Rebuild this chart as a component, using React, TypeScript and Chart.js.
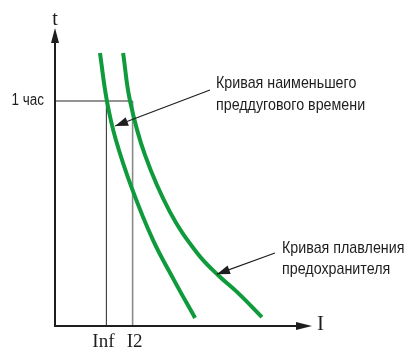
import React, { useEffect, useRef } from "react";
import { Chart, registerables } from "chart.js";

Chart.register(...registerables);

// Curve of minimum pre-arcing time (left curve)
const minArcX = [17.5, 20.2, 23.7, 30.0, 38.1, 46.3, 54.5];
const minArcY = [91.6, 75.5, 62.4, 46.0, 28.9, 15.4, 2.7];
// Fuse melting curve (right curve)
const fuseX = [26.5, 29.2, 35.0, 44.7, 55.3, 63.4, 71.2, 80.5];
const fuseY = [91.6, 75.5, 57.4, 38.3, 24.5, 17.1, 11.1, 3.0];

// Reference values
const hourValue = 75.5;
const xTickValues = [20.0, 30.2];
const xTickLabels = ["Inf", "I2"];
const yTickValues = [hourValue];
const yTickLabels = ["1 час"];
const axisTitleX = "I";
const axisTitleY = "t";

// Annotations: [tailX, tailY, tipX, tipY]
const arrow1 = [60.3, 79.2, 23.4, 67.1];
const arrow2 = [85.6, 24.5, 63.0, 17.4];
const note1 = ["Кривая наименьшего", "преддугового времени"];
const note2 = ["Кривая плавления", "предохранителя"];

const GREEN = "#0f9a3c";
const INK = "#1e1e1e";
const SANS = '"Liberation Sans Narrow", "Liberation Sans", Arial, sans-serif';
const SERIF = '"Liberation Serif", "Times New Roman", serif';
const CONDENSE = 0.84;

function pts(xs: number[], ys: number[]) {
  return xs.map((x, i) => ({ x, y: ys[i] }));
}

function arrowHead(ctx: CanvasRenderingContext2D, x1: number, y1: number, x2: number, y2: number, len: number, half: number) {
  const a = Math.atan2(y2 - y1, x2 - x1);
  ctx.beginPath();
  ctx.moveTo(x2, y2);
  ctx.lineTo(x2 - len * Math.cos(a) + half * Math.sin(a), y2 - len * Math.sin(a) - half * Math.cos(a));
  ctx.lineTo(x2 - len * Math.cos(a) - half * Math.sin(a), y2 - len * Math.sin(a) + half * Math.cos(a));
  ctx.closePath();
  ctx.fill();
}

function narrowText(ctx: CanvasRenderingContext2D, text: string, x: number, y: number, align: "left" | "right") {
  ctx.save();
  ctx.translate(x, y);
  ctx.scale(CONDENSE, 1);
  ctx.textAlign = align;
  ctx.fillText(text, 0, 0);
  ctx.restore();
}

const decorPlugin = {
  id: "decor",
  afterDatasetsDraw(chart: any) {
    const ctx: CanvasRenderingContext2D = chart.ctx;
    const xs = chart.scales.x;
    const ys = chart.scales.y;
    const ca = chart.chartArea;
    const x0 = xs.getPixelForValue(0);
    const y0 = ys.getPixelForValue(0);
    ctx.save();
    ctx.strokeStyle = INK;
    ctx.fillStyle = INK;
    ctx.lineWidth = 2;
    // y axis
    ctx.beginPath();
    ctx.moveTo(x0, y0 + 1);
    ctx.lineTo(x0, ca.top + 12);
    ctx.stroke();
    arrowHead(ctx, x0, y0, x0, ca.top, 15, 4);
    // x axis
    ctx.beginPath();
    ctx.moveTo(x0 - 1, y0);
    ctx.lineTo(ca.right - 12, y0);
    ctx.stroke();
    arrowHead(ctx, x0, y0, ca.right, y0, 16, 4);

    // annotation arrows
    ctx.lineWidth = 1.2;
    [arrow1, arrow2].forEach((a) => {
      const tx = xs.getPixelForValue(a[0]);
      const ty = ys.getPixelForValue(a[1]);
      const hx = xs.getPixelForValue(a[2]);
      const hy = ys.getPixelForValue(a[3]);
      ctx.beginPath();
      ctx.moveTo(tx, ty);
      ctx.lineTo(hx, hy);
      ctx.stroke();
      arrowHead(ctx, tx, ty, hx, hy, 13, 4.5);
    });

    // texts
    ctx.textBaseline = "alphabetic";
    ctx.font = "17px " + SANS;
    const t1x = xs.getPixelForValue(arrow1[0]) + 6;
    const t1y = ys.getPixelForValue(arrow1[1]);
    narrowText(ctx, note1[0], t1x, t1y - 2, "left");
    narrowText(ctx, note1[1], t1x, t1y + 20, "left");
    const t2x = xs.getPixelForValue(arrow2[0]) + 7;
    const t2y = ys.getPixelForValue(arrow2[1]);
    narrowText(ctx, note2[0], t2x, t2y, "left");
    narrowText(ctx, note2[1], t2x, t2y + 21, "left");

    // y tick label
    ctx.font = "16px " + SANS;
    ctx.textBaseline = "middle";
    yTickValues.forEach((v, i) => {
      narrowText(ctx, yTickLabels[i], x0 - 11, ys.getPixelForValue(v), "right");
    });

    // x tick labels
    ctx.font = "19px " + SERIF;
    ctx.textAlign = "center";
    ctx.textBaseline = "alphabetic";
    xTickValues.forEach((v, i) => {
      ctx.fillText(xTickLabels[i], xs.getPixelForValue(v) - (i === 0 ? 3 : -2), y0 + 21);
    });

    // axis titles
    ctx.font = "20px " + SERIF;
    ctx.textAlign = "center";
    ctx.fillText(axisTitleY, x0, ca.top - 3);
    ctx.font = "21px " + SERIF;
    ctx.textAlign = "left";
    ctx.fillText(axisTitleX, ca.right + 5, y0 + 4);
    ctx.restore();
  },
};

export default function App() {
  const ref = useRef<HTMLCanvasElement | null>(null);
  useEffect(() => {
    if (!ref.current) return;
    const lineDs = (data: any[], color: string, width: number, extra: any = {}) => ({
      data,
      borderColor: color,
      borderWidth: width,
      showLine: true,
      pointRadius: 0,
      fill: false,
      ...extra,
    });
    const chart = new Chart(ref.current, {
      type: "scatter",
      data: {
        datasets: [
          lineDs(pts(minArcX, minArcY), GREEN, 4, { tension: 0.4, borderCapStyle: "butt" }),
          lineDs(pts(fuseX, fuseY), GREEN, 4, { tension: 0.4, borderCapStyle: "butt" }),
          lineDs([{ x: 0, y: hourValue }, { x: xTickValues[1], y: hourValue }], "#6f6f6f", 1.3),
          lineDs([{ x: xTickValues[0], y: 0 }, { x: xTickValues[0], y: hourValue }], "#3a3a3a", 1.1),
          lineDs([{ x: xTickValues[1], y: 0 }, { x: xTickValues[1], y: hourValue }], "#8a8a8a", 1.6),
        ],
      },
      options: {
        responsive: false,
        animation: false,
        events: [],
        layout: { padding: { left: 55, right: 94, top: 28, bottom: 23 } },
        scales: {
          x: { type: "linear", min: 0, max: 100, display: false },
          y: { type: "linear", min: 0, max: 100, display: false },
        },
        plugins: { legend: { display: false }, tooltip: { enabled: false } },
      },
      plugins: [decorPlugin],
    } as any);
    return () => chart.destroy();
  }, []);
  return (
    <div style={{ position: "absolute", left: 0, top: 0, width: 406, height: 349, background: "#fff" }}>
      <canvas ref={ref} width={406} height={349} style={{ display: "block" }} />
    </div>
  );
}
